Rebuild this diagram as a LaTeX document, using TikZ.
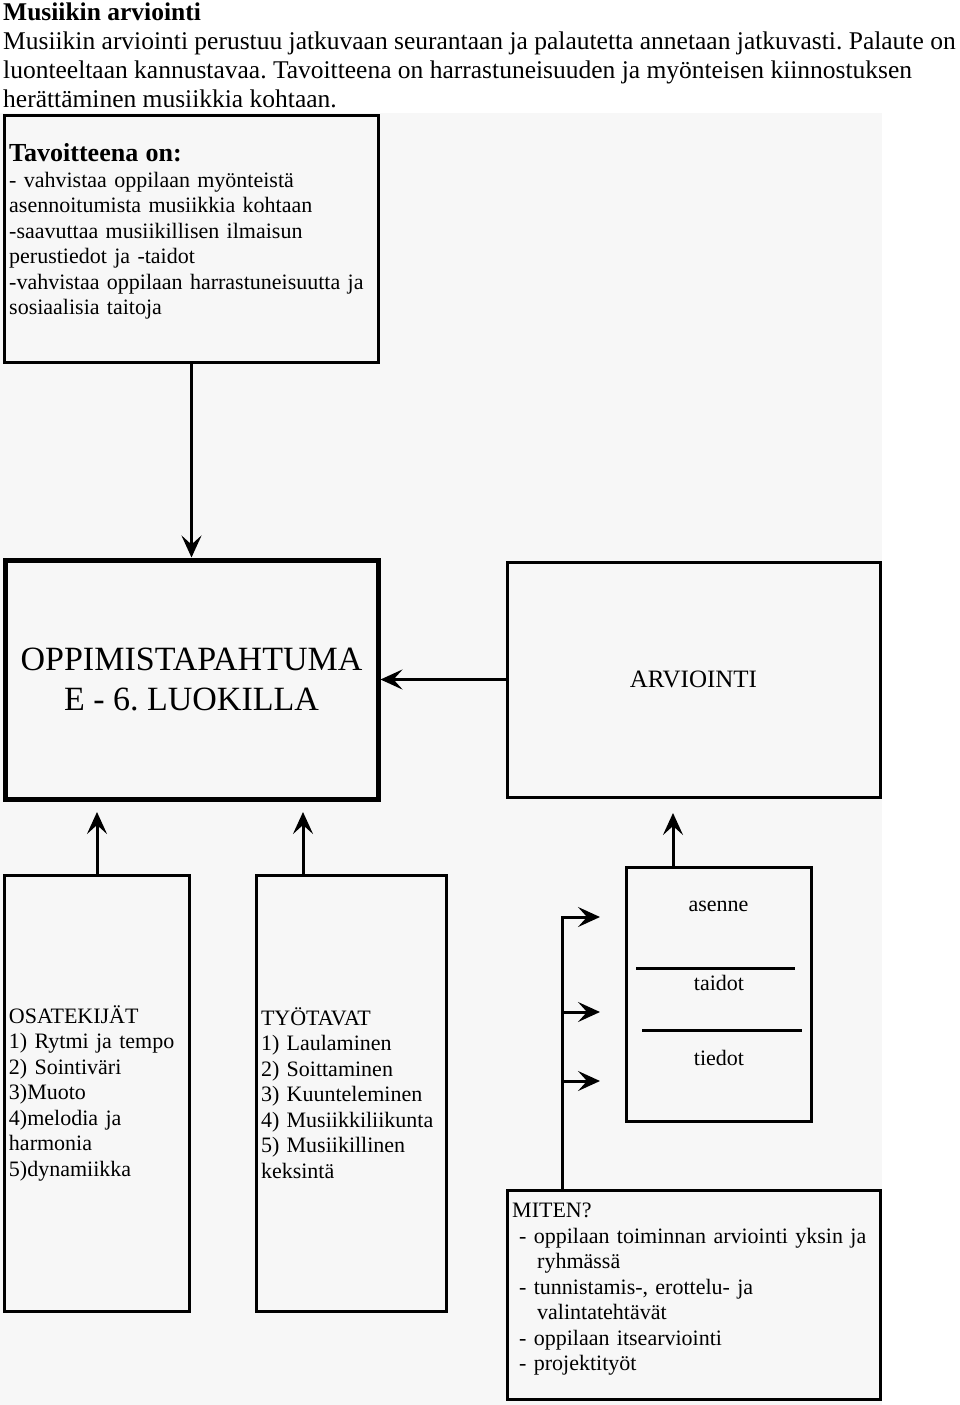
\documentclass[tikz,border=0pt]{standalone}
\usepackage{fontspec}
\setmainfont{Liberation Serif}
\usetikzlibrary{arrows.meta}
\definecolor{panel}{RGB}{247,247,247}
\begin{document}
\frenchspacing
\begin{tikzpicture}[x=1pt, y=-1pt,
  box/.style={draw=black, line width=3pt, fill=panel, inner sep=0pt},
  arr/.style={line width=3pt, -{Stealth[length=22pt, width=20pt, inset=9pt]}},
  body/.style={font=\fontsize{22}{25.5}\selectfont, inner sep=0pt, align=left},
  head/.style={font=\fontsize{25.5}{29}\selectfont, inner sep=0pt, align=left}]
\useasboundingbox (0,0) rectangle (960,1405);
\fill[panel] (0,113) rectangle (882,1405);
\node[head, anchor=base west, font=\bfseries\fontsize{25.5}{29}\selectfont] (title) at (3,21) {Musiikin arviointi};
\node[head, anchor=north west] (intro) at (3,28.7) {\strut Musiikin arviointi perustuu jatkuvaan seurantaan ja palautetta annetaan jatkuvasti. Palaute on\\luonteeltaan kannustavaa. Tavoitteena on harrastuneisuuden ja myönteisen kiinnostuksen\\herättäminen musiikkia kohtaan.};
\node[box, minimum width=374pt, minimum height=247pt] (goal) at (191.5,238.5) {};
\node[body, anchor=north west, text width=368pt] (goaltext) at (9,143.75) {\noindent\strut{\bfseries\fontsize{26}{25.5}\selectfont Tavoitteena on:}\\- vahvistaa oppilaan myönteistä\\asennoitumista musiikkia kohtaan\\-saavuttaa musiikillisen ilmaisun\\perustiedot ja -taidot\\-vahvistaa oppilaan harrastuneisuutta ja\\sosiaalisia taitoja};
\node[box, line width=5pt, minimum width=373pt, minimum height=239pt, font=\fontsize{34}{40}\selectfont, align=center] (main) at (191.5,679.5) {OPPIMISTAPAHTUMA\\E - 6. LUOKILLA};
\node[box, minimum width=373pt, minimum height=235pt, font=\fontsize{25}{29}\selectfont] (arv) at (693.5,679.5) {ARVIOINTI};
\node[box, body, minimum width=185pt, minimum height=436pt, text width=175pt, inner xsep=5pt] (osat) at (96.5,1093) {\noindent OSATEKIJÄT\\1) Rytmi ja tempo\\2) Sointiväri\\3)Muoto\\4)melodia ja\\harmonia\\5)dynamiikka};
\node[box, body, minimum width=190pt, minimum height=436pt, text width=180pt, inner xsep=5pt] (tyot) at (351,1093) {\noindent TYÖTAVAT\\1) Laulaminen\\2) Soittaminen\\3) Kuunteleminen\\4) Musiikkiliikunta\\5) Musiikillinen\\keksintä};
\node[box, minimum width=185pt, minimum height=254pt] (krit) at (718.5,994) {};
\node[body] (asenne) at (718.5,906) {asenne};
\node[body] (taidot) at (719,982.5) {taidot};
\node[body] (tiedot) at (719,1058) {tiedot};
\draw[line width=3pt] (636,968) -- (795,968);
\draw[line width=3pt] (642,1030) -- (802,1030);
\node[box, minimum width=373pt, minimum height=209pt] (miten) at (693.5,1294.5) {};
\node[body, anchor=north west, text width=360pt] (mitentext) at (512,1199.5) {\noindent\strut MITEN?\\\hspace*{7pt}- oppilaan toiminnan arviointi yksin ja\\\hspace*{25pt}ryhmässä\\\hspace*{7pt}- tunnistamis-, erottelu- ja\\\hspace*{25pt}valintatehtävät\\\hspace*{7pt}- oppilaan itsearviointi\\\hspace*{7pt}- projektityöt};
\coordinate (p1) at (97,812);
\coordinate (p2) at (303,812);
\coordinate (p3) at (673,813);
\coordinate (fork) at (562,917);
\coordinate (k1) at (600,917);
\coordinate (k2) at (600,1012);
\coordinate (k3) at (600,1081);
\draw[arr] (goal.south) -- (main.north);
\draw[arr] (arv.west) -- (main.east);
\draw[arr] (osat.north -| p1) -- (p1);
\draw[arr] (tyot.north -| p2) -- (p2);
\draw[arr] (krit.north -| p3) -- (p3);
\draw[arr] (miten.north -| fork) -- (fork) -- (k1);
\draw[arr] (k2 -| fork) -- (k2);
\draw[arr] (k3 -| fork) -- (k3);
\end{tikzpicture}
\end{document}
